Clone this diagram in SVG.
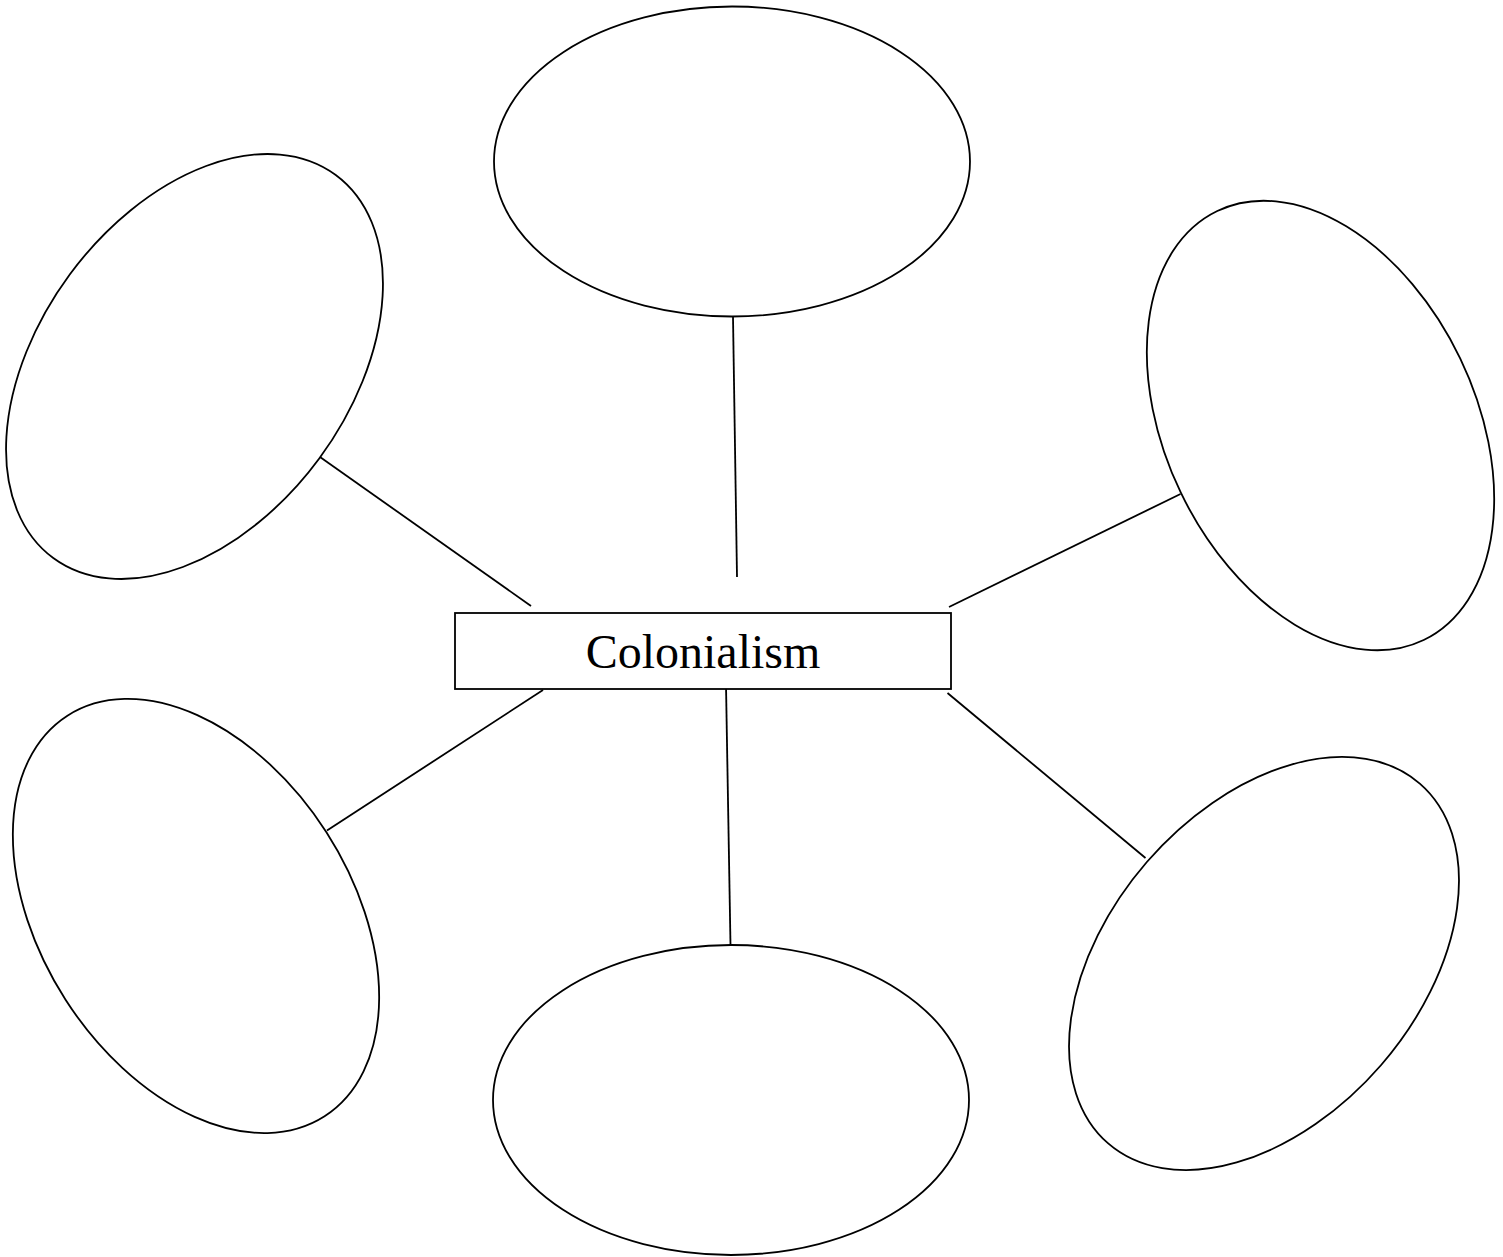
<svg xmlns="http://www.w3.org/2000/svg" width="1503" height="1257" viewBox="0 0 1503 1257">
<style>
.shape{fill:#ffffff;stroke:#000000;stroke-width:1.8}
.conn line{stroke:#000000;stroke-width:1.8}
.label{font-family:"Liberation Serif","Times New Roman",serif;font-size:48px;fill:#000000;text-anchor:middle}
</style>
<rect x="0" y="0" width="1503" height="1257" fill="#ffffff"/>
<g id="node-top"><ellipse class="shape" cx="732" cy="161.5" rx="238" ry="155"/></g>
<g id="node-top-left"><ellipse class="shape" cx="194.5" cy="366.5" rx="238" ry="155" transform="rotate(-53.6 194.5 366.5)"/></g>
<g id="node-top-right"><ellipse class="shape" cx="1320.5" cy="425.5" rx="238" ry="155" transform="rotate(64.3 1320.5 425.5)"/></g>
<g id="node-bottom-left"><ellipse class="shape" cx="196" cy="916" rx="238" ry="155" transform="rotate(57.3 196 916)"/></g>
<g id="node-bottom"><ellipse class="shape" cx="731" cy="1100" rx="238" ry="155"/></g>
<g id="node-bottom-right"><ellipse class="shape" cx="1264" cy="963.5" rx="238" ry="155" transform="rotate(-49.1 1264 963.5)"/></g>
<g id="connectors" class="conn">
<line x1="733" y1="317" x2="737" y2="577"/>
<line x1="320" y1="457" x2="531" y2="606"/>
<line x1="1180.5" y1="494" x2="949" y2="607"/>
<line x1="327" y1="830.5" x2="543" y2="690"/>
<line x1="726" y1="685" x2="730.5" y2="945"/>
<line x1="947.5" y1="693" x2="1145.5" y2="858"/>
</g>
<g id="node-center">
<rect class="shape" x="455" y="613" width="496" height="76"/>
<text class="label" x="703" y="668">Colonialism</text>
</g>
</svg>
